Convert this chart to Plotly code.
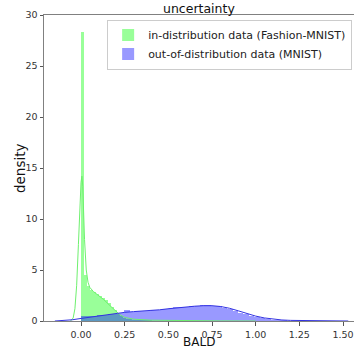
import plotly.graph_objects as go

# ---- data ----
green_bin_width = 0.017
green_hist = [28.3, 4.5, 3.4, 3.0, 2.8, 2.65, 2.5, 2.3, 2.05, 1.75, 1.4, 1.05, 0.7,
              0.45, 0.32, 0.24, 0.18, 0.14, 0.12, 0.1, 0.08, 0.07, 0.06, 0.05,
              0.045, 0.04, 0.035, 0.03, 0.028, 0.025, 0.022, 0.02, 0.018, 0.016,
              0.014, 0.012, 0.011, 0.01, 0.009, 0.008, 0.007, 0.006, 0.005,
              0.005, 0.004, 0.004, 0.003, 0.003, 0.002, 0.002]

blue_bin_width = 0.031
blue_hist = [0.5, 0.45, 0.5, 0.55, 0.6, 0.65, 0.7, 0.75, 1.05, 0.92, 0.94, 0.97,
             1.0, 1.05, 1.12, 1.2, 1.27, 1.33, 1.38, 1.42, 1.46, 1.5, 1.53, 1.53,
             1.5, 1.43, 1.32, 1.18, 1.0, 0.82, 0.65, 0.49, 0.36, 0.25, 0.17,
             0.11, 0.07, 0.05, 0.035, 0.025, 0.02, 0.015, 0.012, 0.01, 0.008,
             0.006, 0.005, 0.004, 0.003]

green_kde_x = [-0.06, -0.045, -0.035, -0.025, -0.015, -0.007, 0.0, 0.005, 0.01,
               0.02, 0.03, 0.04, 0.05, 0.07, 0.1, 0.13, 0.16, 0.19, 0.22, 0.25,
               0.3, 0.4, 0.5, 0.6, 0.7, 0.8, 0.9, 1.0]
green_kde_y = [0.0, 0.3, 1.2, 3.5, 7.5, 11.5, 13.6, 14.2, 13.2, 8.0, 5.0, 3.8,
               3.3, 2.9, 2.5, 2.1, 1.6, 1.1, 0.65, 0.35, 0.18, 0.08, 0.05, 0.03,
               0.02, 0.01, 0.005, 0.0]

blue_kde_x = [-0.15, -0.1, -0.05, 0.0, 0.05, 0.1, 0.15, 0.2, 0.25, 0.3, 0.35,
              0.4, 0.45, 0.5, 0.55, 0.6, 0.65, 0.7, 0.75, 0.8, 0.85, 0.9, 0.95,
              1.0, 1.05, 1.1, 1.15, 1.2, 1.25, 1.3, 1.4, 1.53]
blue_kde_y = [0.0, 0.05, 0.12, 0.25, 0.38, 0.5, 0.62, 0.75, 0.85, 0.92, 0.97,
              1.02, 1.1, 1.2, 1.3, 1.38, 1.45, 1.5, 1.5, 1.42, 1.25, 1.0, 0.72,
              0.48, 0.3, 0.18, 0.1, 0.06, 0.04, 0.025, 0.01, 0.0]

x_ticks = [0, 0.25, 0.5, 0.75, 1.0, 1.25, 1.5]
x_ticktext = ["0.00", "0.25", "0.50", "0.75", "1.00", "1.25", "1.50"]
y_ticks = [0, 5, 10, 15, 20, 25, 30]

green_label = "in-distribution data (Fashion-MNIST)"
blue_label = "out-of-distribution data (MNIST)"

green_x = [green_bin_width * (i + 0.5) for i in range(len(green_hist))]
blue_x = [blue_bin_width * (i + 0.5) for i in range(len(blue_hist))]

FONT = "DejaVu Sans"
W, H = 354, 349
ML, MR, MT, MB = 44, 0, 15, 28

fig = go.Figure()
fig.add_trace(go.Bar(x=green_x, y=green_hist, width=green_bin_width,
                     marker=dict(color="rgba(0,255,0,0.4)", line=dict(width=0)),
                     name=green_label))
fig.add_trace(go.Scatter(x=green_kde_x, y=green_kde_y, mode="lines",
                         line=dict(color="rgb(110,240,110)", width=1),
                         showlegend=False))
fig.add_trace(go.Bar(x=blue_x, y=blue_hist, width=blue_bin_width,
                     marker=dict(color="rgba(0,0,255,0.4)", line=dict(width=0)),
                     name=blue_label))
fig.add_trace(go.Scatter(x=blue_kde_x, y=blue_kde_y, mode="lines",
                         line=dict(color="rgb(50,50,225)", width=1),
                         showlegend=False))

axis_common = dict(showgrid=False, zeroline=False, showline=True, mirror=True,
                   linecolor="#808080", linewidth=1, ticks="outside",
                   ticklen=3.5, tickcolor="#555",
                   tickfont=dict(size=9.5, color="#333", family=FONT))

fig.update_layout(
    width=W, height=H,
    margin=dict(l=ML, r=MR, t=MT, b=MB, autoexpand=False),
    paper_bgcolor="white", plot_bgcolor="white",
    barmode="overlay", bargap=0,
    font=dict(family=FONT, color="#111"),
    xaxis=dict(range=[-0.212, 1.563], tickvals=x_ticks, ticktext=x_ticktext,
               automargin=False, ticklabelstandoff=1, **axis_common),
    yaxis=dict(range=[0, 30], tickvals=y_ticks, automargin=False, **axis_common),
    legend=dict(x=0.994, xanchor="right", y=0.985, yanchor="top",
                bgcolor="rgba(255,255,255,0.8)", bordercolor="#ccc", borderwidth=1,
                font=dict(size=11, family=FONT, color="#222"),
                itemwidth=30, tracegroupgap=0),
    annotations=[
        dict(text="uncertainty", xref="paper", yref="paper", x=0.5, y=1.0,
             yshift=-3, xanchor="center", yanchor="bottom", showarrow=False,
             font=dict(size=12.5, family=FONT, color="#111")),
        dict(text="BALD", xref="paper", yref="paper", x=0.5, y=0,
             yshift=-13, xanchor="center", yanchor="top", showarrow=False,
             borderpad=0, font=dict(size=12, family=FONT, color="#111")),
        dict(text="density", xref="paper", yref="paper", x=0, y=0.5,
             xshift=-24, xanchor="center", yanchor="middle", showarrow=False,
             textangle=-90, font=dict(size=13.5, family=FONT, color="#111")),
    ],
)

fig.write_html("out.html", config={"displayModeBar": False},
               post_script="document.body.style.margin='0';document.body.style.overflow='hidden';")
